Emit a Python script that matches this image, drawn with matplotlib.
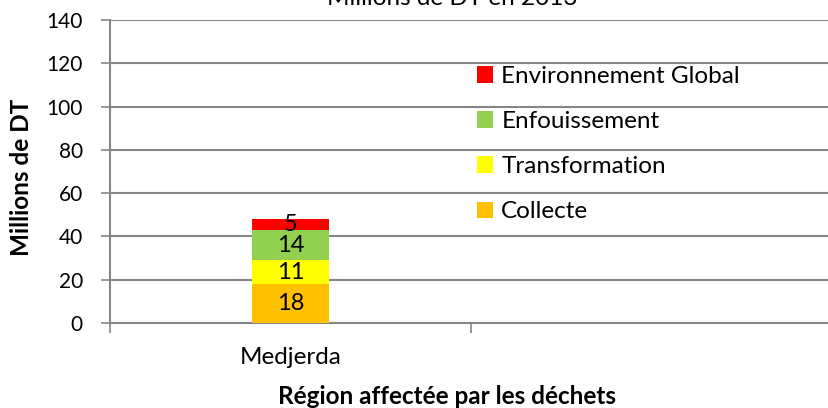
import numpy as np
import matplotlib as mpl
mpl.use("Agg")
import matplotlib.pyplot as plt

plt.rcParams["font.family"] = ["Lato", "DejaVu Sans"]

regions = ["Medjerda", ""]
series = ["Collecte", "Transformation", "Enfouissement", "Environnement Global"]
values = {
    "Collecte": [18, 0],
    "Transformation": [11, 0],
    "Enfouissement": [14, 0],
    "Environnement Global": [5, 0],
}
colors = ["#FFC000", "#FFFF00", "#92D050", "#FF0000"]
yticks = [0, 20, 40, 60, 80, 100, 120, 140]

GRID = "#868686"
FS_TXT = 17.5   # category / legend text
FS_NUM = 15     # tick digits
FS_BAR = 17     # bar values
FS_LAB = 17.5   # bold axis titles

fig = plt.figure(figsize=(8.29, 4.08), dpi=100)
ax = fig.add_axes([110 / 829, 85 / 408, 722 / 829, 303 / 408])

x = np.arange(len(regions))
bottom = np.zeros(len(regions))
handles = []
for name, col in zip(series, colors):
    v = np.array(values[name], float)
    bars = ax.bar(x[:1], v[:1], bottom=bottom[:1], width=0.216, color=col, zorder=3)
    ax.bar_label(bars, labels=[str(int(a)) for a in v[:1]], label_type="center",
                 fontsize=FS_BAR, color="black")
    bottom += v
    handles.append(bars)

ax.set_xlim(-0.5, 1.5)
ax.set_ylim(0, 140)
ax.set_yticks(yticks)
ax.yaxis.grid(True, color=GRID, linewidth=1.5, zorder=0)
ax.set_axisbelow(True)
ax.set_xticks(x)
ax.set_xticklabels(regions, fontsize=FS_TXT)
ax.set_xticks([-0.5, 0.5, 1.5], minor=True)
ax.tick_params(axis="x", which="major", length=0, pad=17)
ax.tick_params(axis="x", which="minor", length=7, width=1.2, color=GRID)
ax.tick_params(axis="y", length=6.5, width=1.2, color=GRID, labelsize=FS_NUM, pad=13)
for s in ("top", "right"):
    ax.spines[s].set_visible(False)
for s in ("left", "bottom"):
    ax.spines[s].set_color(GRID)
    ax.spines[s].set_linewidth(1.5)

fig.text(22 / 829, 1 - 177 / 408, "Millions de DT", fontsize=FS_LAB, fontweight="bold",
         rotation=90, ha="center", va="center")
fig.text(447 / 829, 1 - 396 / 408, "Région affectée par les déchets", fontsize=FS_LAB,
         fontweight="bold", ha="center", va="center")
fig.text(452 / 829, 1 - 5 / 408, "Millions de DT en 2013", fontsize=FS_TXT,
         ha="center", va="baseline")

leg = ax.legend(handles[::-1], series[::-1], loc="upper left",
                bbox_to_anchor=(477 / 829, 1 - 66 / 408), bbox_transform=fig.transFigure,
                frameon=False, fontsize=FS_TXT, handlelength=0.65, handleheight=0.65,
                handletextpad=0.35, labelspacing=0.99, borderaxespad=0, borderpad=0)

fig.savefig("out.png", dpi=100)
